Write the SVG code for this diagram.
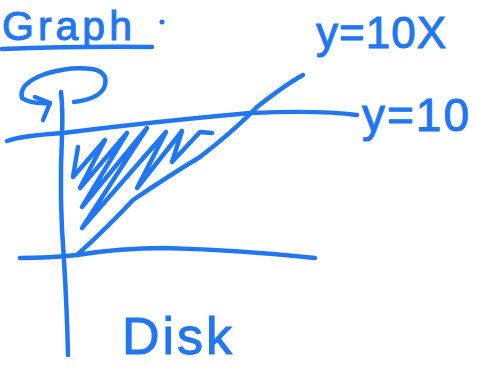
<svg xmlns="http://www.w3.org/2000/svg" width="477" height="370" viewBox="0 0 477 370">
<style>
.ink{fill:none;stroke:#2176f3;stroke-width:4.5;stroke-linecap:round;stroke-linejoin:round}
.txt{fill:#2176f3;stroke:#2176f3;stroke-width:1;font-family:"Liberation Sans",Arial,sans-serif}
</style>
<rect width="477" height="370" fill="#ffffff"/>
<g id="title">
<text class="txt" x="2" y="40" font-size="41" letter-spacing="4">Graph</text>
<circle cx="162" cy="22" r="2.5" fill="#2176f3"/>
<path class="ink" d="M2,49 Q80,46 152,47"/>
</g>
<g id="rotation-arrow">
<path class="ink" d="M74,102 Q98,99 104,88 Q110,72 92,69 Q70,66 45,74 Q18,84 22,98 Q30,104 50,103"/>
<path class="ink" d="M35,97 L50,103 L43,120"/>
</g>
<g id="connectors">
<path class="ink" d="M61,92 Q63,110 62,135 Q59,200 64,260 Q67,310 68,355"/>
<path class="ink" d="M7,141 Q20,136 63,133 Q150,122 250,113 Q320,110 357,115"/>
<path class="ink" d="M20,258 Q50,258 77,255 Q120,248 165,248 Q240,250 315,258"/>
<path class="ink" d="M77,255 Q110,225 133,200 Q170,175 200,157 Q235,130 257,107 Q285,85 303,75"/>
<path class="ink" d="M78,147 L73,177 L105,140 L80,188 L127,133 L82,207 L147,128 L82,228 L166,132 L137,188 L182,131 L172,162 L200,132 L212,133"/>
</g>
<g id="label-y10x">
<text class="txt" x="316" y="48" font-size="44" letter-spacing="1">y=10X</text>
</g>
<g id="label-y10">
<text class="txt" x="362" y="131" font-size="46" letter-spacing="2">y=10</text>
</g>
<g id="label-disk">
<text class="txt" x="122" y="354" font-size="52" letter-spacing="3">Disk</text>
</g>
</svg>
